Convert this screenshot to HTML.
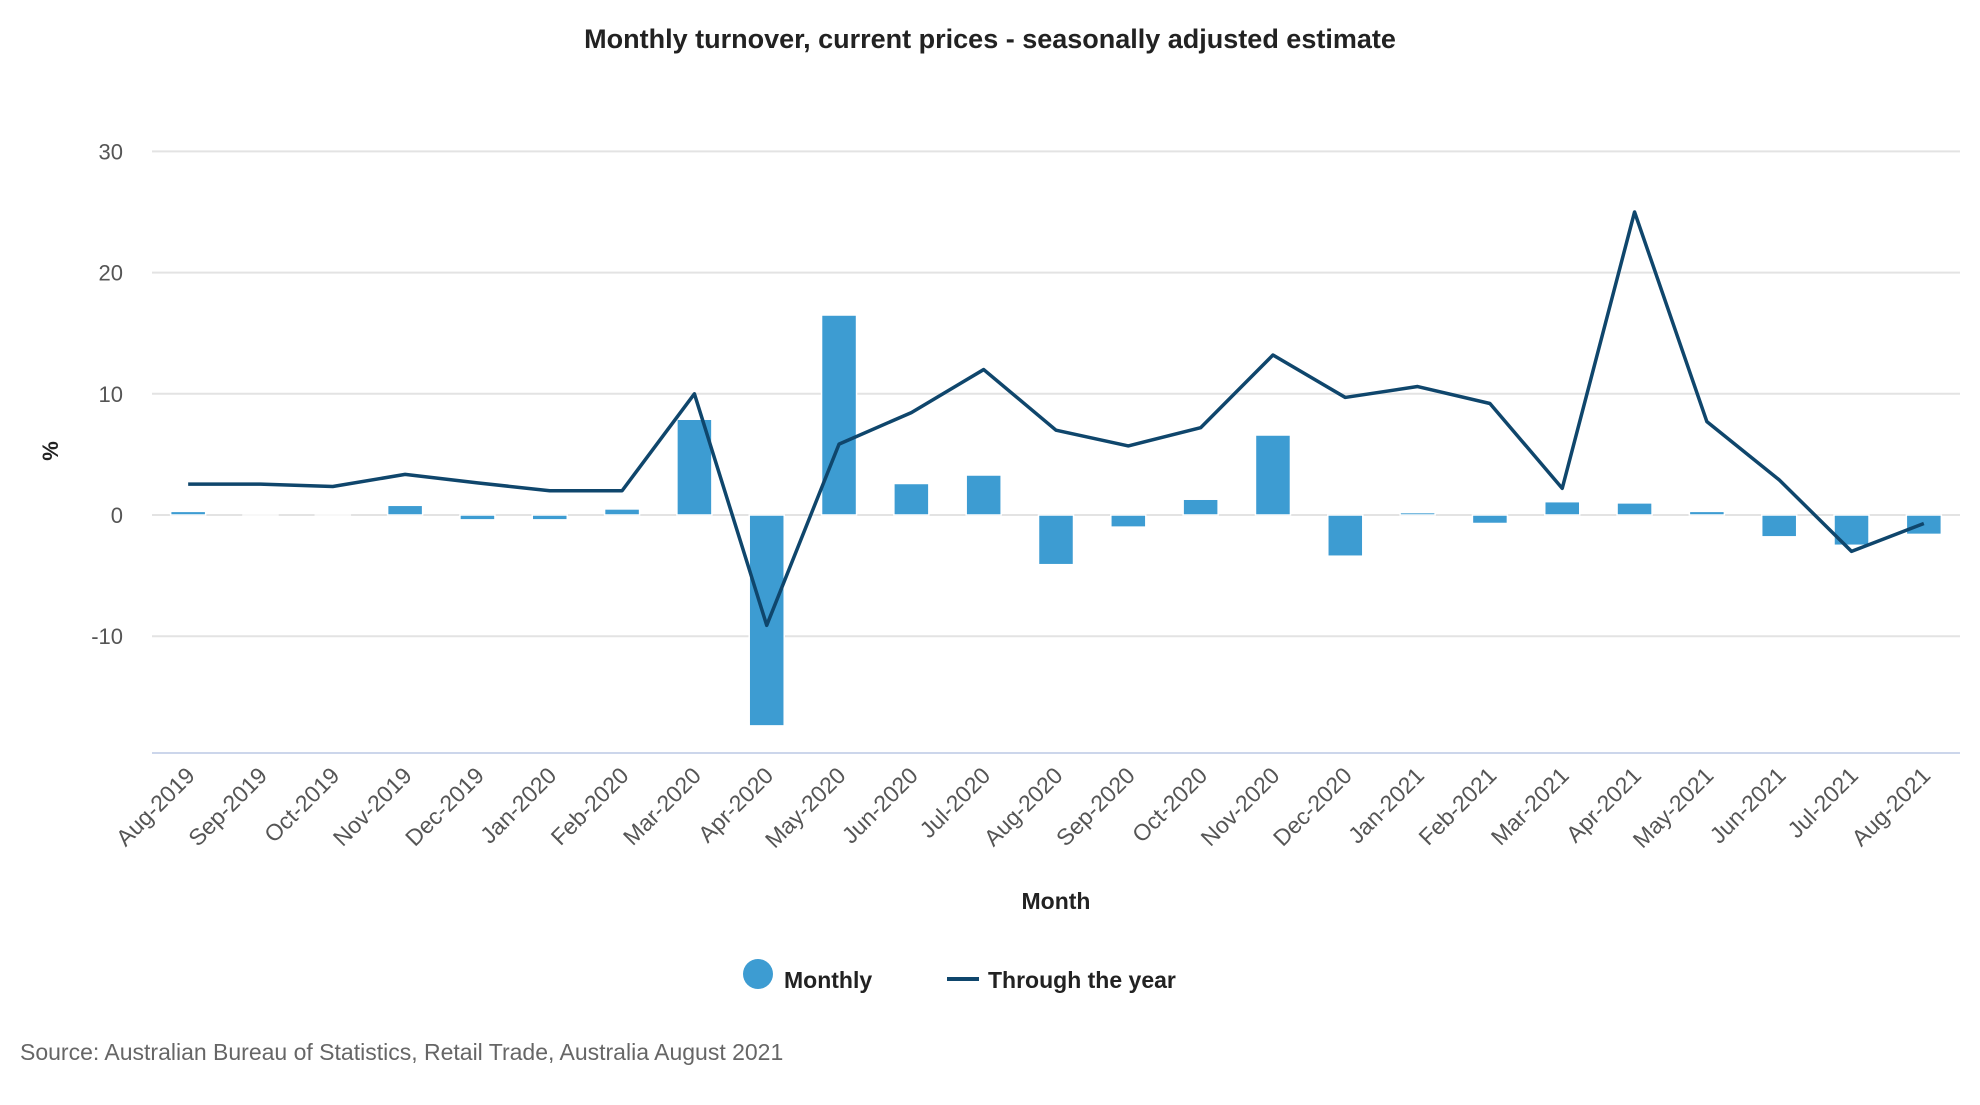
<!DOCTYPE html>
<html><head><meta charset="utf-8"><style>
body{margin:0;background:#fff;width:1980px;height:1100px;overflow:hidden;font-family:"Liberation Sans",sans-serif}
</style></head><body>
<svg id="chart" width="1980" height="1100" xmlns="http://www.w3.org/2000/svg" font-family="Liberation Sans, sans-serif">
<text x="990" y="48" text-anchor="middle" font-size="27" font-weight="bold" fill="#222">Monthly turnover, current prices - seasonally adjusted estimate</text>
<g id="grid"></g><g id="bars"></g><g id="line"></g><g id="xlabels"></g><g id="ylabels"></g>
<text transform="translate(58,451) rotate(-90)" text-anchor="middle" font-size="22" font-weight="bold" fill="#222">%</text>
<text x="1056" y="909" text-anchor="middle" font-size="23" font-weight="bold" fill="#222">Month</text>
<g>
<g><circle cx="758" cy="974" r="15" fill="#3d9cd2"/><text x="784" y="988" font-size="23" font-weight="bold" fill="#222">Monthly</text></g>
<g><line x1="947" y1="979" x2="979" y2="979" stroke="#0f466c" stroke-width="4"/><text x="988" y="988" font-size="23" font-weight="bold" fill="#222">Through the year</text></g>
</g>
<text x="20" y="1060" font-size="23" fill="#666">Source: Australian Bureau of Statistics, Retail Trade, Australia August 2021</text>
</svg>
<script>
const categories=["Aug-2019","Sep-2019","Oct-2019","Nov-2019","Dec-2019","Jan-2020","Feb-2020","Mar-2020","Apr-2020","May-2020","Jun-2020","Jul-2020","Aug-2020","Sep-2020","Oct-2020","Nov-2020","Dec-2020","Jan-2021","Feb-2021","Mar-2021","Apr-2021","May-2021","Jun-2021","Jul-2021","Aug-2021"];
const monthly=[0.3,0,0,0.8,-0.4,-0.4,0.5,7.9,-17.4,16.5,2.6,3.3,-4.1,-1.0,1.3,6.6,-3.4,0.2,-0.7,1.1,1.0,0.3,-1.8,-2.5,-1.6];
const throughYear=[2.55,2.55,2.35,3.35,2.65,2.0,2.0,10.0,-9.1,5.85,8.45,12.0,7.0,5.7,7.2,13.2,9.7,10.6,9.2,2.2,25.0,7.7,2.9,-3.0,-0.7];
const yTicks=[-10,0,10,20,30];
const NS="http://www.w3.org/2000/svg";
const L=152,R=1960,zeroY=515,perUnit=12.12,axisY=753;
const band=(R-L)/categories.length;
function x(i){return L+band*(i+0.5);}
function y(v){return zeroY-v*perUnit;}
function mk(t,a,p){const e=document.createElementNS(NS,t);for(const k in a)e.setAttribute(k,a[k]);document.getElementById(p).appendChild(e);return e;}
yTicks.forEach(v=>{
 const g=mk('line',{x1:L,x2:R,y1:y(v),y2:y(v),stroke:'#e3e3e3','stroke-width':2},'grid');
 
 
 const t=mk('text',{x:123,y:y(v)+8,'text-anchor':'end','font-size':22,fill:'#555'},'ylabels');
 t.textContent=v;
 
 
});
const ax=mk('line',{x1:L,x2:R,y1:axisY,y2:axisY,stroke:'#ccd6eb','stroke-width':2},'grid');


const bw=35;
monthly.forEach((v,i)=>{
 const y0=Math.min(y(v),zeroY),h=Math.abs(y(v)-zeroY);
 const b=mk('rect',{x:x(i)-bw/2,y:y0,width:bw,height:Math.max(h,0.01),fill:'#3d9cd2',stroke:'#fff','stroke-width':1.5},'bars');
 
 
});
const pts=throughYear.map((v,i)=>x(i)+','+y(v)).join(' ');
const pl=mk('polyline',{points:pts,fill:'none',stroke:'#0f466c','stroke-width':3.5,'stroke-linejoin':'round'},'line');


categories.forEach((c,i)=>{
 const t=mk('text',{transform:`translate(${x(i)+8},${axisY+24}) rotate(-45)`,'text-anchor':'end','font-size':23,fill:'#555'},'xlabels');
 t.textContent=c;
 
 
});
</script>
</body></html>
